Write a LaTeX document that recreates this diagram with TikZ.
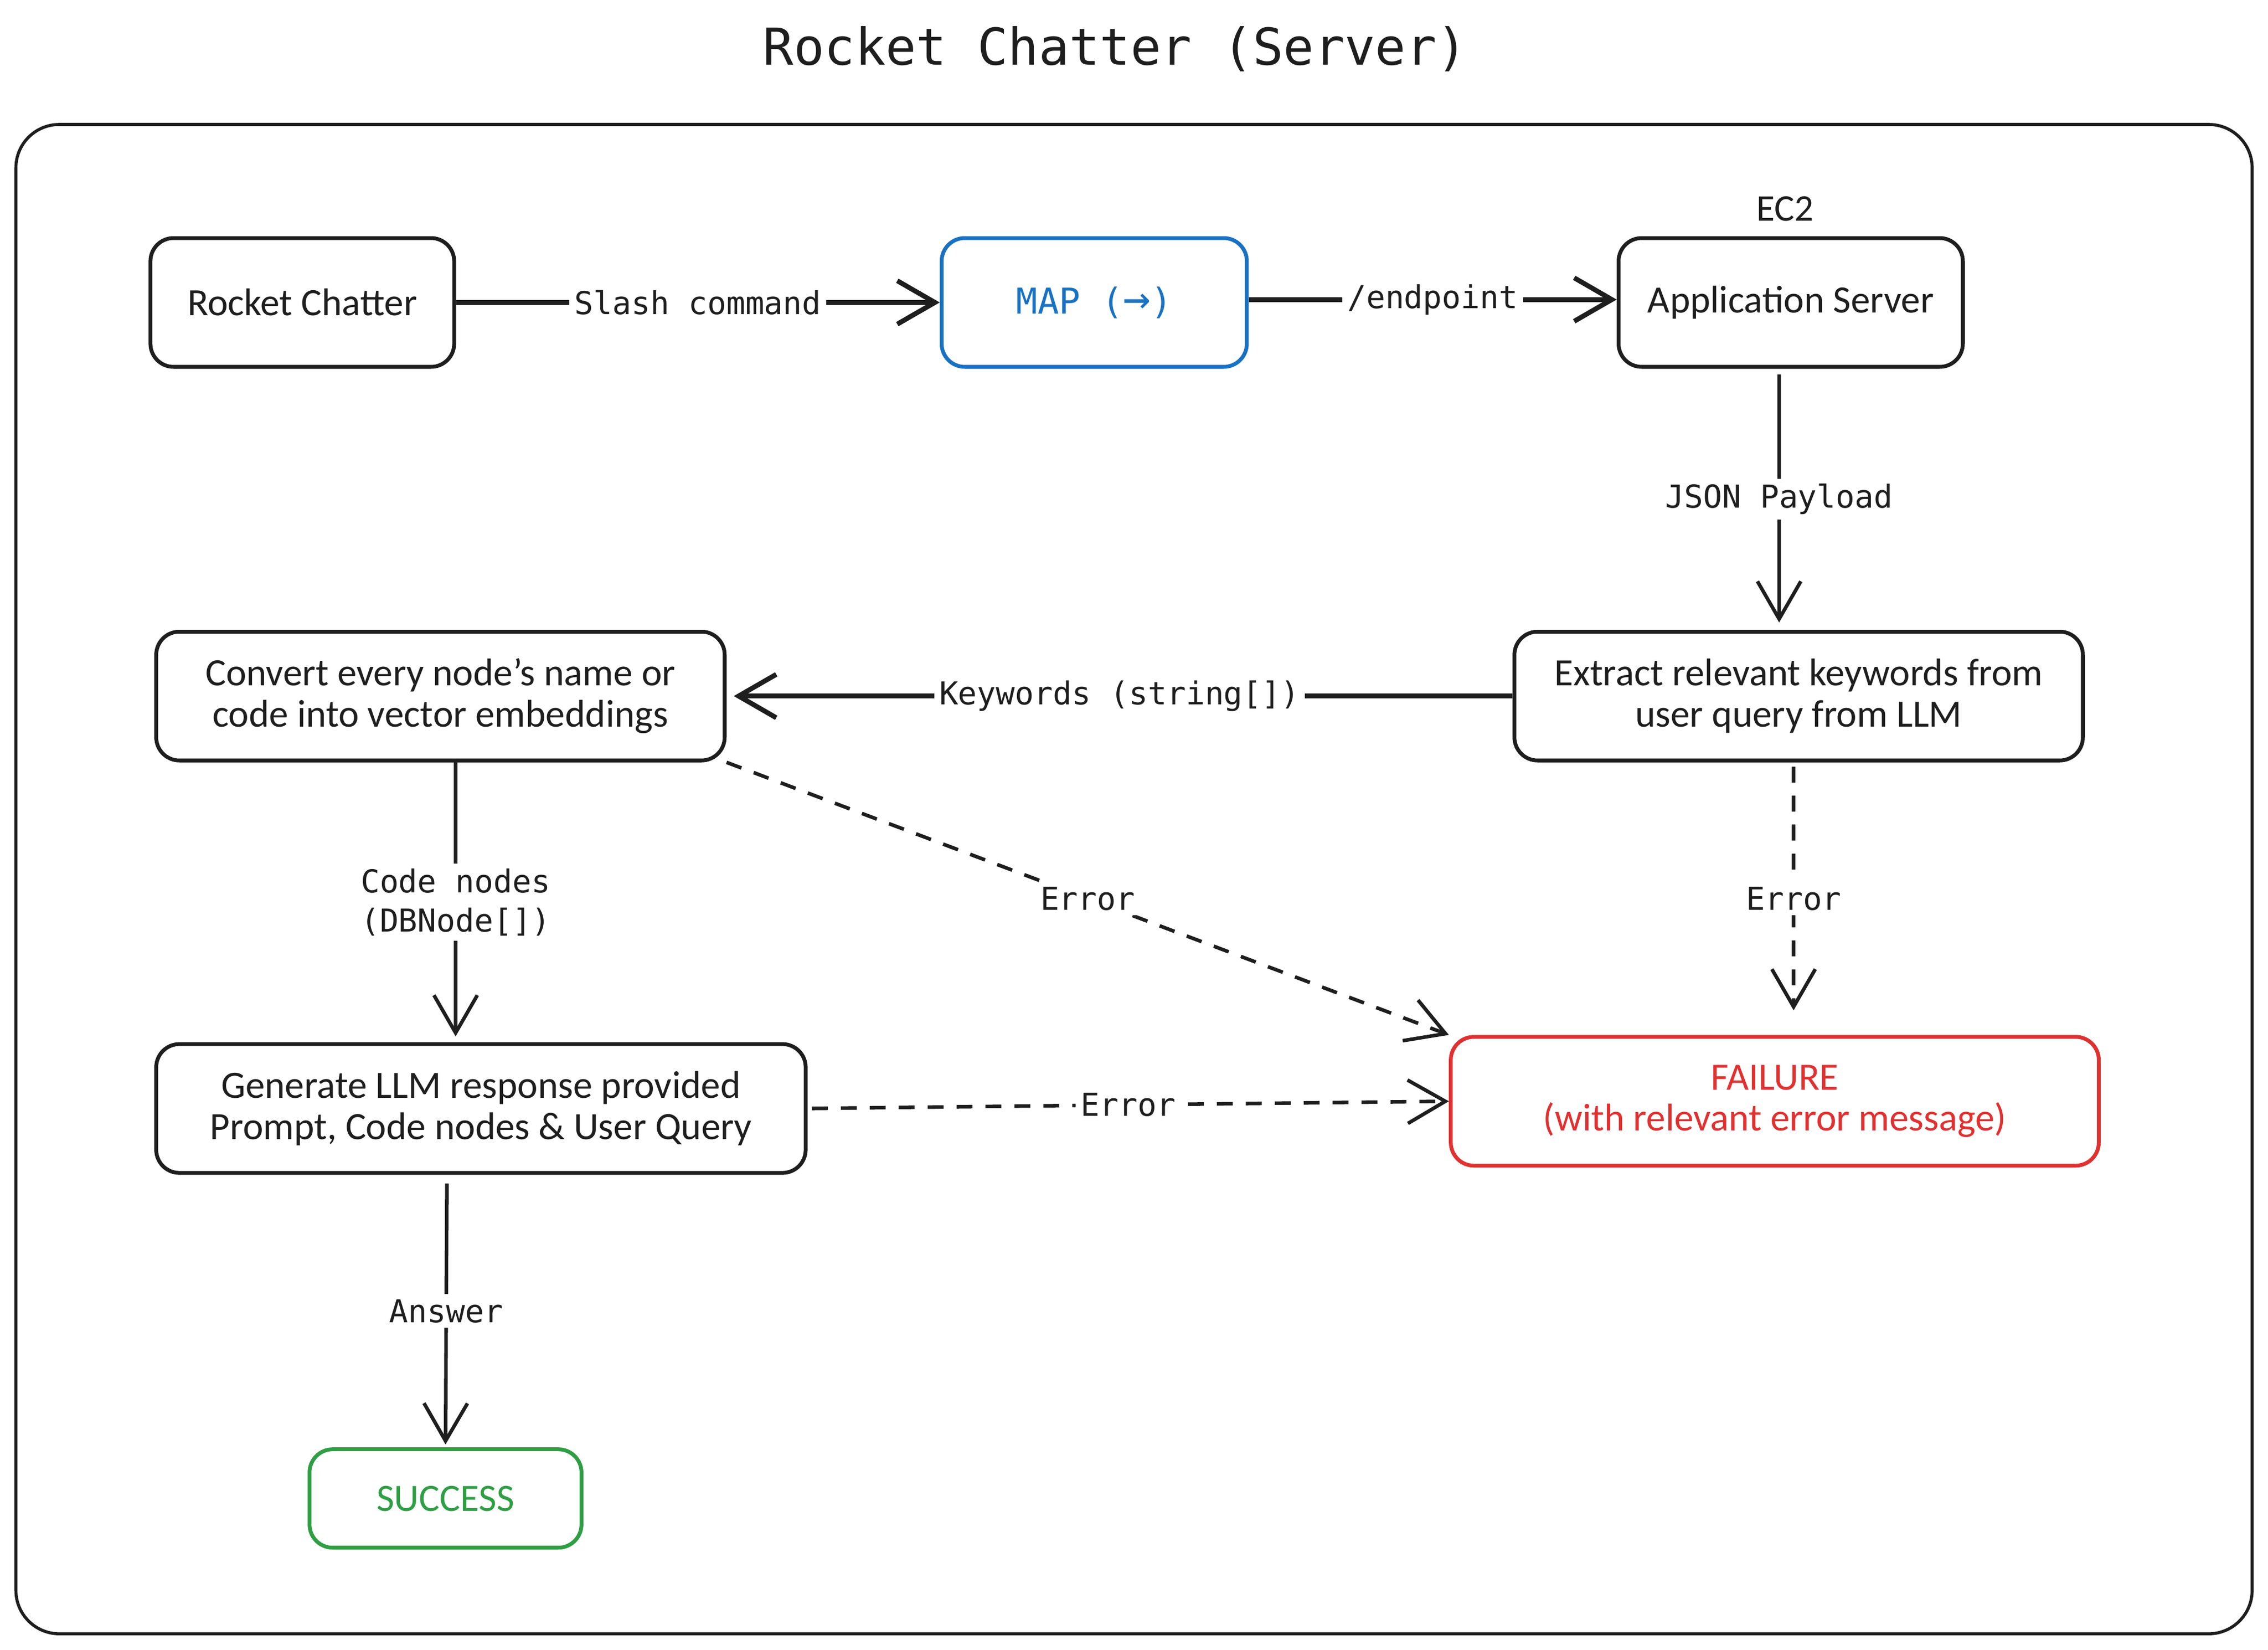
\documentclass[tikz,border=0pt]{standalone}
\usepackage{fontspec}
\setmainfont{Carlito}
\newfontfamily\codefont{DejaVu Sans Mono}
\usetikzlibrary{arrows.meta, positioning}
\definecolor{ink}{HTML}{1E1E1E}
\definecolor{mapblue}{HTML}{1971C2}
\definecolor{failred}{HTML}{E03131}
\definecolor{okgreen}{HTML}{2F9E44}

\begin{document}
\begin{tikzpicture}[on grid,node distance=1cm,>={Straight Barb[length=2.6mm,width=3mm]},
      every node/.style={text=ink},
      box/.style={draw=ink,line width=0.75pt,rounded corners=1.6mm,minimum height=8.9mm,
        align=center,font=\fontsize{7.6}{8.1}\selectfont},
      lbl/.style={fill=white,inner sep=1pt,align=center,font=\codefont\fontsize{6.2}{7.7}\selectfont},
      flow/.style={->,draw=ink,line width=0.7pt},
      bold/.style={line width=0.95pt},
      % err/.style={flow,dashed},
      err/.style={flow,dash pattern=on 1.1mm off 0.9mm}]
      \useasboundingbox (0,0) rectangle (15.68,-11.40);
      \node (title) at (7.71,-0.34) {\codefont\fontsize{10}{12}\selectfont Rocket Chatter (Server)};
      \draw[ink,line width=0.6pt,rounded corners=3mm] (0.11,-0.86) rectangle (15.57,-11.29);
      \node[box,minimum width=21mm]   (chatter) at (2.09,-2.09) {Rocket Chatter};
      \node[box,draw=mapblue,text=mapblue,minimum width=21.1mm,
        font=\codefont\fontsize{7}{8}\selectfont]   (map) [right=5.475cm of chatter]
        {MAP ({\fontsize{9}{8}\selectfont→})};
      \node[box,minimum width=23.8mm]   (app) [right=4.815cm of map] {Application Server};
      \node[font=\fontsize{7.4}{8}\selectfont]   (ec2) [above left=0.645cm and 0.04cm of app] {EC2};
      \node[box,minimum width=39.3mm]   (extract) [below right=2.72cm and 0.055cm of app]
        {Extract relevant keywords from\\user query from LLM};
      \node[box,minimum width=39.3mm]   (convert) [left=9.39cm of extract]
        {Convert every node's name or\\code into vector embeddings};
      \node[box,minimum width=44.9mm]   (generate) [below right=2.85cm and 0.28cm of convert]
        {Generate LLM response provided\\Prompt, Code nodes \& User Query};
      \node[box,draw=failred,text=failred,minimum width=44.8mm]   (failure) [below left=2.8cm and 0.165cm of extract]
        {FAILURE\\(with relevant error message)};
      \node[box,draw=okgreen,text=okgreen,minimum width=18.8mm,minimum height=6.8mm]   (success)
        [below left=2.695cm and 0.245cm of generate] {SUCCESS};
      \draw[flow,bold] (chatter.east) -- node[lbl] {Slash command} (map.west);
      \draw[flow,bold] ([yshift=0.2mm]map.east) -- node[lbl] {/endpoint} ([yshift=0.2mm]app.west);
      \draw[flow,shorten <=0.4mm,shorten >=0.5mm] ([xshift=-0.8mm]app.south)
        -- node[lbl] {JSON Payload} ([xshift=-1.35mm]extract.north);
      \draw[flow,bold,shorten >=0.5mm] (extract.west) -- node[lbl] {Keywords (string[])} (convert.east);
      \draw[flow,shorten >=0.4mm] ([xshift=1.05mm]convert.south)
        -- node[lbl] {Code nodes\\(DBNode[])} ([xshift=-1.75mm]generate.north);
      \draw[err] (convert.south east) -- node[lbl] {Error} (failure.north west);
      \draw[err,shorten <=0.3mm,shorten >=1.7mm] ([xshift=-0.35mm]extract.south)
        -- node[lbl] {Error} ([xshift=1.3mm]failure.north);
      \draw[err,shorten <=0.3mm] (generate.east) -- node[lbl] {Error} (failure.west);
      \draw[flow,shorten <=0.6mm,shorten >=0.2mm] ([xshift=-2.35mm]generate.south)
        -- node[lbl] {Answer} (success.north);
    \end{tikzpicture}
\end{document}
